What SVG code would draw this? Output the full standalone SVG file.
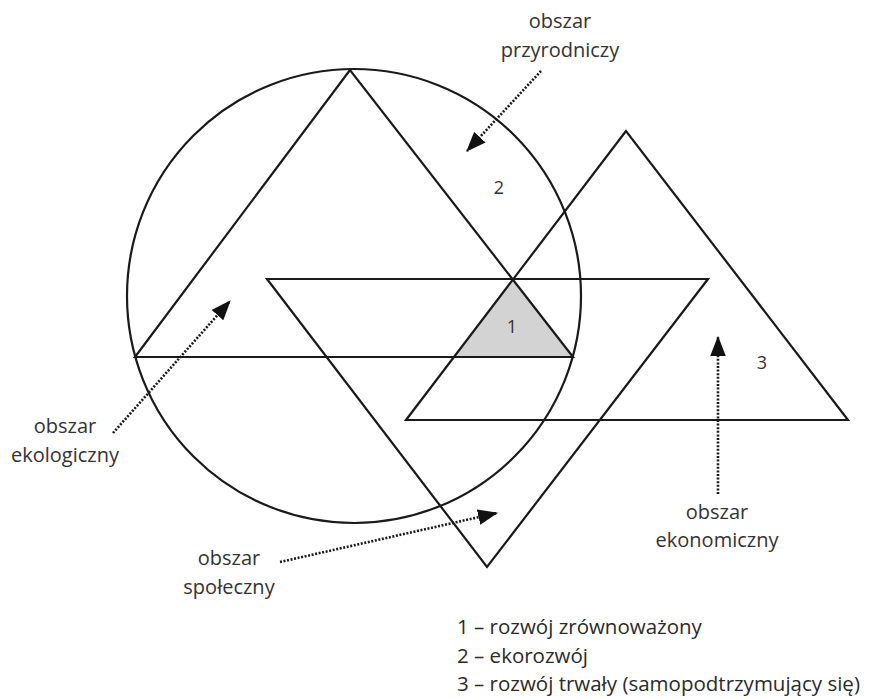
<svg xmlns="http://www.w3.org/2000/svg" width="876" height="699" viewBox="0 0 876 699">
<style>
.shape{fill:none;stroke:#1a1a1a;stroke-width:2.2;stroke-linejoin:miter}
.conn{fill:none;stroke:#1a1a1a;stroke-width:2.6;stroke-dasharray:2 1.6}
.lbl{font-family:"Open Sans","Liberation Sans",sans-serif;font-size:20px;fill:#333;text-anchor:middle}
.num{font-family:"Open Sans","Liberation Sans",sans-serif;font-size:18px;fill:#333;text-anchor:middle}
.leg{font-family:"Open Sans","Liberation Sans",sans-serif;font-size:20.5px;fill:#2a2a2a}
</style>
<defs>
<marker id="ah" markerUnits="userSpaceOnUse" markerWidth="20" markerHeight="16" refX="17" refY="7" orient="auto" viewBox="0 0 18 14">
<path d="M0,0 L18,7 L0,14 Z" fill="#111"/>
</marker>
</defs>
<rect width="876" height="699" fill="#fff"/>
<g id="shaded-1"><polygon points="512,279 455,357 573,357" fill="#d3d3d3"/></g>
<g id="circle-nature"><circle cx="354" cy="296" r="227" class="shape"/></g>
<g id="triangle-ecological"><polygon points="350,70 135,357 573,357" class="shape"/></g>
<g id="triangle-social"><polygon points="267,279 708,279 487,567" class="shape"/></g>
<g id="triangle-economic"><polygon points="626,131 406,420 848,420" class="shape"/></g>
<g id="numbers">
<text class="num" x="512" y="333">1</text>
<text class="num" x="499" y="194">2</text>
<text class="num" x="762" y="369">3</text>
</g>
<g id="connectors">
<line class="conn" x1="541" y1="71" x2="467" y2="151" marker-end="url(#ah)"/>
<line class="conn" x1="113" y1="433" x2="230" y2="301" marker-end="url(#ah)"/>
<line class="conn" x1="280" y1="562" x2="497" y2="513" marker-end="url(#ah)"/>
<line class="conn" x1="718" y1="494" x2="718" y2="337" marker-end="url(#ah)"/>
</g>
<g id="label-przyrodniczy">
<text class="lbl" x="560" y="28">obszar</text>
<text class="lbl" x="560" y="57">przyrodniczy</text>
</g>
<g id="label-ekologiczny">
<text class="lbl" x="65" y="433">obszar</text>
<text class="lbl" x="65" y="462">ekologiczny</text>
</g>
<g id="label-spoleczny">
<text class="lbl" x="229" y="565">obszar</text>
<text class="lbl" x="229" y="594">społeczny</text>
</g>
<g id="label-ekonomiczny">
<text class="lbl" x="717" y="519">obszar</text>
<text class="lbl" x="717" y="547">ekonomiczny</text>
</g>
<g id="legend">
<text class="leg" x="457" y="634">1 – rozwój zrównoważony</text>
<text class="leg" x="457" y="663">2 – ekorozwój</text>
<text class="leg" x="457" y="691">3 – rozwój trwały (samopodtrzymujący się)</text>
</g>
</svg>
